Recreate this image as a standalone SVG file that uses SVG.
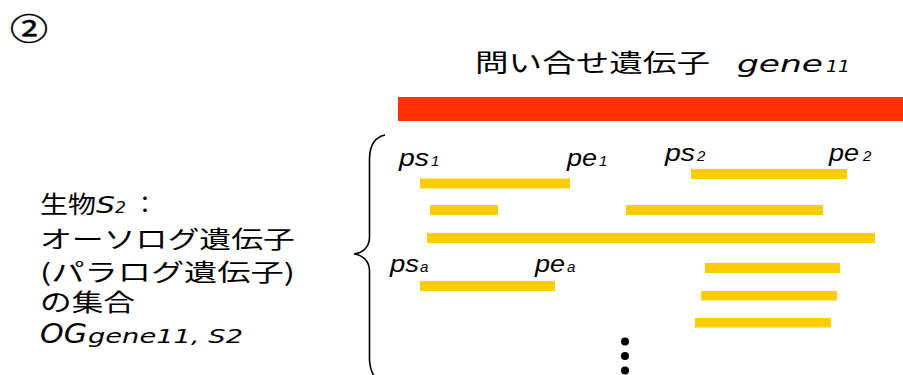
<svg xmlns="http://www.w3.org/2000/svg" width="903" height="375" viewBox="0 0 903 375">
<style>
.jp{font-family:"Noto Sans CJK JP","Noto Sans CJK SC",sans-serif;fill:#000}
.it{font-family:"Liberation Sans",Arial,sans-serif;font-style:italic;fill:#000}
.vd{font-family:"DejaVu Sans",Verdana,sans-serif;font-style:italic;fill:#000}
.bar{fill:#FFCC00}
</style>
<rect width="903" height="375" fill="#fff"/>
<g id="number">
<text class="jp" x="10" y="40" font-size="31" textLength="38" lengthAdjust="spacingAndGlyphs" stroke="#000" stroke-width="0.5">②</text>
</g>
<g id="query">
<text class="jp" x="475" y="72" font-size="25" textLength="235" lengthAdjust="spacingAndGlyphs">問い合せ遺伝子</text>
<text class="vd" x="737" y="72" font-size="23" textLength="86" lengthAdjust="spacingAndGlyphs">gene</text>
<text class="vd" x="826" y="72" font-size="15" textLength="24" lengthAdjust="spacingAndGlyphs">11</text>
<rect x="398" y="97" width="505" height="24" fill="#FF3300"/>
</g>
<g id="label">
<text class="jp" x="40" y="213" font-size="24" textLength="56" lengthAdjust="spacingAndGlyphs">生物</text>
<text class="vd" x="96" y="213" font-size="23" textLength="19" lengthAdjust="spacingAndGlyphs">S</text>
<text class="vd" x="115" y="213" font-size="15" textLength="11" lengthAdjust="spacingAndGlyphs">2</text>
<text class="jp" x="133" y="213" font-size="24">：</text>
<text class="jp" x="40" y="248" font-size="24" textLength="255" lengthAdjust="spacingAndGlyphs">オーソログ遺伝子</text>
<text class="jp" x="40" y="281" font-size="24" textLength="255" lengthAdjust="spacingAndGlyphs">(パラログ遺伝子)</text>
<text class="jp" x="40" y="311" font-size="24" textLength="95" lengthAdjust="spacingAndGlyphs">の集合</text>
<text class="vd" x="40" y="343" font-size="27" textLength="47" lengthAdjust="spacingAndGlyphs">OG</text>
<text class="vd" x="88" y="343" font-size="19" textLength="155" lengthAdjust="spacingAndGlyphs">gene11, S2</text>
</g>
<g id="brace">
<path d="M385,135 C375,137 370,145 369.5,158 L369.5,238 C369,248 362,253 354,254 C362,255 369,260 369.5,270 L369.5,360 C370,370 373,376 378,381" fill="none" stroke="#000" stroke-width="1.6"/>
</g>
<g id="hits">
<rect class="bar" x="420" y="178.5" width="150" height="10"/>
<rect class="bar" x="691" y="169" width="156" height="10"/>
<rect class="bar" x="430" y="205" width="68" height="10"/>
<rect class="bar" x="626" y="205" width="197" height="10"/>
<rect class="bar" x="427" y="233" width="448" height="10"/>
<rect class="bar" x="420" y="281" width="135" height="10"/>
<rect class="bar" x="705" y="263" width="135" height="10"/>
<rect class="bar" x="701" y="291" width="136" height="9.5"/>
<rect class="bar" x="695" y="318" width="136" height="9.5"/>
</g>
<g id="hit-labels">
<text class="it" x="399" y="166" font-size="23" textLength="30" lengthAdjust="spacingAndGlyphs">ps</text>
<text class="it" x="431" y="166" font-size="15">1</text>
<text class="it" x="567" y="166" font-size="23" textLength="30" lengthAdjust="spacingAndGlyphs">pe</text>
<text class="it" x="599" y="166" font-size="15">1</text>
<text class="it" x="665" y="161" font-size="23" textLength="30" lengthAdjust="spacingAndGlyphs">ps</text>
<text class="it" x="697" y="161" font-size="15">2</text>
<text class="it" x="829" y="161" font-size="23" textLength="30" lengthAdjust="spacingAndGlyphs">pe</text>
<text class="it" x="863" y="161" font-size="15">2</text>
<text class="it" x="390" y="272" font-size="23" textLength="29" lengthAdjust="spacingAndGlyphs">ps</text>
<text class="it" x="420" y="272" font-size="15">a</text>
<text class="it" x="535" y="272" font-size="23" textLength="30" lengthAdjust="spacingAndGlyphs">pe</text>
<text class="it" x="567" y="272" font-size="15">a</text>
</g>
<g id="ellipsis" fill="#000">
<circle cx="625" cy="341.5" r="4"/>
<circle cx="625" cy="356" r="4"/>
<circle cx="625" cy="370.5" r="4"/>
</g>
</svg>
